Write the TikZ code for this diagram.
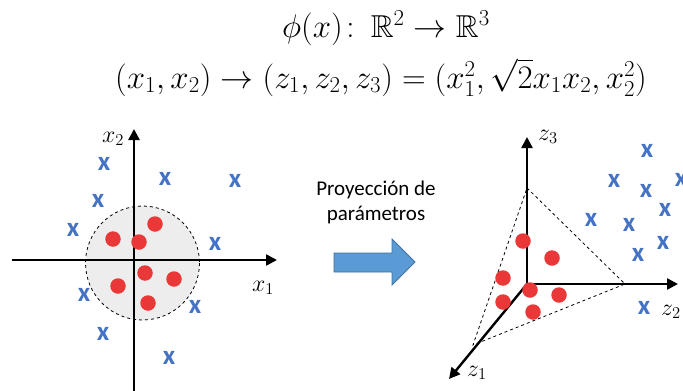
\documentclass[tikz,border=0pt]{standalone}
\usepackage{amssymb}
\usepackage{fontspec}
\setmainfont{Carlito}
\usetikzlibrary{arrows.meta}
\definecolor{dotred}{RGB}{234,56,56}
\definecolor{xblue}{RGB}{68,114,196}
\definecolor{circfill}{RGB}{237,237,237}
\definecolor{arrfill}{RGB}{91,155,213}
\definecolor{arrdraw}{RGB}{65,113,156}
\tikzset{
  axis/.style={line width=2.4pt,-{Triangle[length=11pt,width=11pt]}},
  dot/.style={circle,fill=dotred,minimum size=15.5pt,inner sep=0pt},
  xmark/.style={text=xblue,font=\fontsize{27}{27}\selectfont\bfseries,inner sep=0pt},
  axlabel/.style={font=\fontsize{20}{20}\selectfont,inner sep=0pt,scale=1.15},
  eqstyle/.style={font=\fontsize{24}{24}\selectfont,anchor=base,inner sep=0pt,scale=1.32},
  guide/.style={dashed,line width=0.8pt}
}
\begin{document}
\begin{tikzpicture}[x=1pt,y=-1pt]
\useasboundingbox (0,0) rectangle (683,391);
% equations
\node[eqstyle] (eq1) at (386,37) {$\phi(x)\!:\ \mathbb{R}^2 \rightarrow \mathbb{R}^3$};
\node[eqstyle] (eq2) at (381,88) {$(x_1,x_2) \rightarrow (z_1,z_2,z_3) = \bigl(x_1^2,\sqrt{2}x_1x_2,x_2^2\bigr)$};
% left plot
\draw[guide,fill=circfill] (142.5,263) circle (57);
\coordinate (ol) at (134,260);
\coordinate (xl) at (12,260);
\coordinate (x1t) at (277,260);
\coordinate (yb) at (134,391);
\coordinate (x2t) at (134,129);
\draw[axis] (xl) -- (x1t);
\draw[axis] (yb) -- (x2t);
\node[axlabel] (x2lab) at (113,139) {$x_2$};
\node[axlabel] (x1lab) at (263,288) {$x_1$};
\foreach \p/\n in {{155,224}/a1,{113,239}/a2,{139,242}/a3,{145,273}/a4,{174,279}/a5,{118,286}/a6,{148,303}/a7}
  \node[dot] (\n) at (\p) {};
\foreach \p/\n in {{104,164}/b1,{165,179}/b2,{235,181}/b3,{98,201}/b4,{73,230}/b5,{215,244}/b6,{84,295}/b7,{195,307}/b8,{103,334}/b9,{169,358}/b10}
  \node[xmark] (\n) at (\p) {x};
% middle
\node[align=center,font=\fontsize{21}{25}\selectfont] (lbl) at (376,202) {Proyección de\\parámetros};
\draw[draw=arrdraw,fill=arrfill,line width=0.8pt]
  (334,253) -- (392,253) -- (392,239) -- (415,262) -- (392,285) -- (392,272) -- (334,272) -- cycle;
% right plot
\coordinate (o) at (527,284);
\coordinate (z3t) at (527,137);
\coordinate (z2t) at (678,284);
\coordinate (z1t) at (449,379);
\coordinate (p3) at (527,188);
\coordinate (p2) at (625,284);
\coordinate (p1) at (473,345);
\draw[guide] (p3) -- (p2) -- (p1) -- cycle;
\draw[axis] (o) -- (z3t);
\draw[axis] (o) -- (z2t);
\draw[axis] (o) -- (z1t);
\node[axlabel] (z3lab) at (548,137) {$z_3$};
\node[axlabel] (z2lab) at (671,312) {$z_2$};
\node[axlabel] (z1lab) at (477,373) {$z_1$};
\foreach \p/\n in {{523,241}/c1,{552,258}/c2,{503,278}/c3,{530,290}/c4,{559,295}/c5,{503,302}/c6,{533,312}/c7}
  \node[dot] (\n) at (\p) {};
\foreach \p/\n in {{647,151}/d1,{614,181}/d2,{646,191}/d3,{681,180}/d4,{591,220}/d5,{665,210}/d6,{629,225}/d7,{663,243}/d8,{638,255}/d9,{644,308}/d10}
  \node[xmark] (\n) at (\p) {x};
\end{tikzpicture}
\end{document}
